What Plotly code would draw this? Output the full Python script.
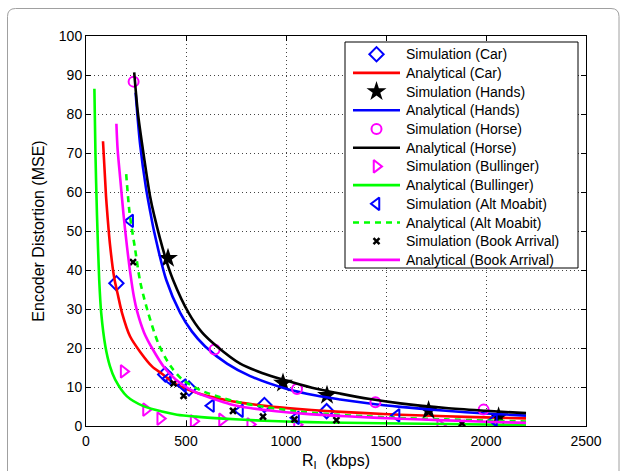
import plotly.graph_objects as go

# ---------------- data ----------------
car_ana_x = [85, 100, 108, 120, 141, 160, 180, 220, 271, 330, 380, 440, 490, 580, 687, 771, 905, 1050, 1200, 1400, 1571, 1800, 2000, 2200]
car_ana_y = [73, 59, 53.5, 46.5, 38, 33.5, 29, 23, 19, 15.3, 13.4, 11.0, 9.7, 8.1, 6.8, 6.0, 5.1, 4.4, 3.85, 3.3, 2.9, 2.5, 2.2, 1.95]

hands_ana_x = [248, 271, 300, 321, 340, 401, 471, 530, 596, 705, 821, 997, 1150, 1271, 1400, 1571, 1800, 2000, 2200]
hands_ana_y = [85.5, 72, 61, 55, 50, 37.5, 29, 24.2, 20.4, 16.0, 12.8, 9.6, 7.8, 6.8, 5.9, 4.9, 3.9, 3.2, 2.65]

horse_ana_x = [241, 260, 285, 320, 341, 395, 435, 513, 580, 655, 771, 880, 997, 1130, 1271, 1420, 1571, 1800, 2000, 2200]
horse_ana_y = [90.7, 80, 70.7, 59, 54, 43.5, 37.5, 29, 24, 20.4, 16.0, 13.6, 11.7, 9.8, 8.3, 6.9, 5.8, 4.6, 3.9, 3.3]

bull_ana_x = [42, 47, 55, 66, 76, 97, 120, 146, 205, 287, 380, 455, 550, 687, 850, 1000, 1200, 1571, 1800, 2200]
bull_ana_y = [86.5, 70.5, 54, 37.5, 29, 20.4, 15.3, 11.9, 7.6, 5.1, 3.7, 2.9, 2.4, 1.9, 1.45, 1.15, 0.9, 0.65, 0.5, 0.25]

alt_ana_x = [201, 218, 246, 271, 308, 363, 421, 480, 571, 671, 771, 905, 1050, 1200, 1400, 1600, 1800, 2000, 2200]
alt_ana_y = [64.6, 54.6, 45.2, 37.0, 29.5, 21.0, 15.5, 12.0, 9.2, 7.4, 6.0, 4.8, 3.8, 3.1, 2.5, 2.0, 1.7, 1.4, 1.15]

book_ana_x = [152, 158, 172, 188, 205, 222, 240, 255, 290, 330, 397, 447, 500, 555, 640, 721, 821, 950, 1100, 1300, 1571, 1800, 2000, 2200]
book_ana_y = [77.5, 71, 63, 54, 46, 39, 33, 29.5, 24, 20, 14.6, 12, 10, 8.5, 6.9, 5.6, 4.6, 3.8, 3.1, 2.5, 1.85, 1.45, 1.1, 0.8]

car_sim_x = [152, 396, 515, 892, 1203]
car_sim_y = [36.6, 13.2, 9.6, 5.4, 3.8]

hands_sim_x = [410, 985, 1205, 1713, 2063]
hands_sim_y = [43.0, 11.0, 7.9, 4.0, 2.4]

horse_sim_x = [238, 643, 1055, 1447, 1988]
horse_sim_y = [88.3, 19.6, 9.5, 6.1, 4.2]

bull_sim_x = [188, 300, 371, 538, 680, 821, 1055, 1771]
bull_sim_y = [14.0, 4.2, 1.9, 1.2, 1.6, 0.4, 0.3, 0.2]

alt_sim_x = [221, 410, 485, 625, 770, 1050, 1553, 2040]
alt_sim_y = [52.6, 12.2, 10.4, 5.2, 3.9, 2.1, 2.7, 1.5]

book_sim_x = [235, 438, 488, 735, 885, 1042, 1252, 1880]
book_sim_y = [42.0, 10.9, 7.7, 3.9, 2.4, 1.7, 1.5, 0.65]

x_ticks = [0, 500, 1000, 1500, 2000, 2500]
y_ticks = [0, 10, 20, 30, 40, 50, 60, 70, 80, 90, 100]

# ---------------- styles ----------------
BLUE = "#0000ff"
RED = "#ff0000"
BLACK = "#000000"
MAG = "#ff00ff"
GREEN = "#00ff00"
FONT = "Liberation Sans, Arial, Helvetica"

W, H = 626, 471
ML, MR, MT, MB = 86, 40, 36, 45
PW, PH = W - ML - MR, H - MT - MB
XMAX, YMAX = 2500, 100

# (name, kind, x, y, color, symbol/dash, size, marker line width)
series = [
    ("Simulation (Car)", "m", car_sim_x, car_sim_y, BLUE, "diamond-open", 11, 2),
    ("Analytical (Car)", "l", car_ana_x, car_ana_y, RED, "solid", 0, 0),
    ("Simulation (Hands)", "m", hands_sim_x, hands_sim_y, BLACK, "star", 15, 0),
    ("Analytical (Hands)", "l", hands_ana_x, hands_ana_y, BLUE, "solid", 0, 0),
    ("Simulation (Horse)", "m", horse_sim_x, horse_sim_y, MAG, "circle-open", 10, 2),
    ("Analytical (Horse)", "l", horse_ana_x, horse_ana_y, BLACK, "solid", 0, 0),
    ("Simulation (Bullinger)", "m", bull_sim_x, bull_sim_y, MAG, "triangle-right-open", 11, 2),
    ("Analytical (Bullinger)", "l", bull_ana_x, bull_ana_y, GREEN, "solid", 0, 0),
    ("Simulation (Alt Moabit)", "m", alt_sim_x, alt_sim_y, BLUE, "triangle-left-open", 11, 2),
    ("Analytical (Alt Moabit)", "l", alt_ana_x, alt_ana_y, GREEN, "6px,5px", 0, 0),
    ("Simulation (Book Arrival)", "m", book_sim_x, book_sim_y, BLACK, "x-thin-open", 6, 2.5),
    ("Analytical (Book Arrival)", "l", book_ana_x, book_ana_y, MAG, "solid", 0, 0),
]

fig = go.Figure()

for name, kind, x, y, color, sty, size, lw in series:
    if kind == "m":
        fig.add_trace(go.Scatter(x=x, y=y, mode="markers", name=name, showlegend=False,
                                 marker=dict(symbol=sty, size=size, color=color,
                                             line=dict(color=color, width=lw))))
    else:
        fig.add_trace(go.Scatter(x=x, y=y, mode="lines", name=name, showlegend=False,
                                 line=dict(color=color, width=2.6, dash=sty,
                                           shape="spline", smoothing=0.8)))


# helpers: page pixel -> data / paper coordinates (for layout placement only)
def dx(v):
    return (v - ML) / PW * XMAX


def dy(v):
    return (H - MB - v) / PH * YMAX


def pxp(v):
    return (v - ML) / PW


def pyp(v):
    return (H - MB - v) / PH


# ---------------- hand-made legend ----------------
LEG_L, LEG_R, LEG_T, LEG_B = 345, 578, 42, 268
ROW0, ROW_STEP = 54.2, 18.7
SYM_X0, SYM_X1, TXT_X = 353, 400, 404

fig.add_shape(type="rect", xref="x", yref="y", x0=dx(LEG_L), x1=dx(LEG_R), y0=dy(LEG_T), y1=dy(LEG_B),
              line=dict(color="black", width=1), fillcolor="white", layer="between")

for i, (name, kind, x, y, color, sty, size, lw) in enumerate(series):
    cy = ROW0 + i * ROW_STEP
    if kind == "m":
        fig.add_trace(go.Scatter(x=[dx((SYM_X0 + SYM_X1) / 2)], y=[dy(cy)],
                                 mode="markers", showlegend=False, hoverinfo="skip",
                                 marker=dict(symbol=sty, size=size, color=color,
                                             line=dict(color=color, width=lw))))
    else:
        fig.add_trace(go.Scatter(x=[dx(SYM_X0), dx(SYM_X1)], y=[dy(cy), dy(cy)],
                                 mode="lines", showlegend=False, hoverinfo="skip",
                                 line=dict(color=color, width=2.6, dash=sty)))
    fig.add_annotation(x=dx(TXT_X), y=dy(cy), xref="x", yref="y", text=name, showarrow=False,
                       xanchor="left", yanchor="middle",
                       font=dict(family=FONT, size=14, color="black"))

# rounded outer frame (as in the source figure)
r = 8
L, T, R, B = 7.5, 8.5, 619, 490
path = (f"M {pxp(L)},{pyp(B)} L {pxp(L)},{pyp(T + r)} Q {pxp(L)},{pyp(T)} {pxp(L + r)},{pyp(T)} "
        f"L {pxp(R - r)},{pyp(T)} Q {pxp(R)},{pyp(T)} {pxp(R)},{pyp(T + r)} L {pxp(R)},{pyp(B)}")
fig.add_shape(type="path", path=path, xref="paper", yref="paper",
              line=dict(color="#a0a0a0", width=1), layer="below")

axis_common = dict(showline=True, linecolor="black", linewidth=1, mirror="allticks",
                   ticks="inside", ticklen=5, tickcolor="black", automargin=False,
                   showgrid=True, gridcolor="#444444", gridwidth=1, griddash="1px,3px",
                   zeroline=False, tickfont=dict(family=FONT, size=14, color="black"))

fig.update_xaxes(range=[0, XMAX], tickvals=x_ticks, ticktext=[str(v) for v in x_ticks],
                 ticklabelstandoff=2,
                 title=dict(text="R<sub>I</sub>  (kbps)", standoff=7,
                            font=dict(family=FONT, size=16, color="black")),
                 **axis_common)
fig.update_yaxes(range=[0, YMAX], tickvals=y_ticks, ticktext=[str(v) for v in y_ticks],
                 title=dict(text="Encoder Distortion (MSE)", standoff=10,
                            font=dict(family=FONT, size=16, color="black")),
                 **axis_common)

fig.update_layout(
    width=W, height=H,
    margin=dict(l=ML, r=MR, t=MT, b=MB),
    paper_bgcolor="white", plot_bgcolor="white",
    showlegend=False,
    font=dict(family=FONT, color="black"),
)

fig.write_html("out.html", config={"displayModeBar": False},
               post_script="document.body.style.margin='0';")
